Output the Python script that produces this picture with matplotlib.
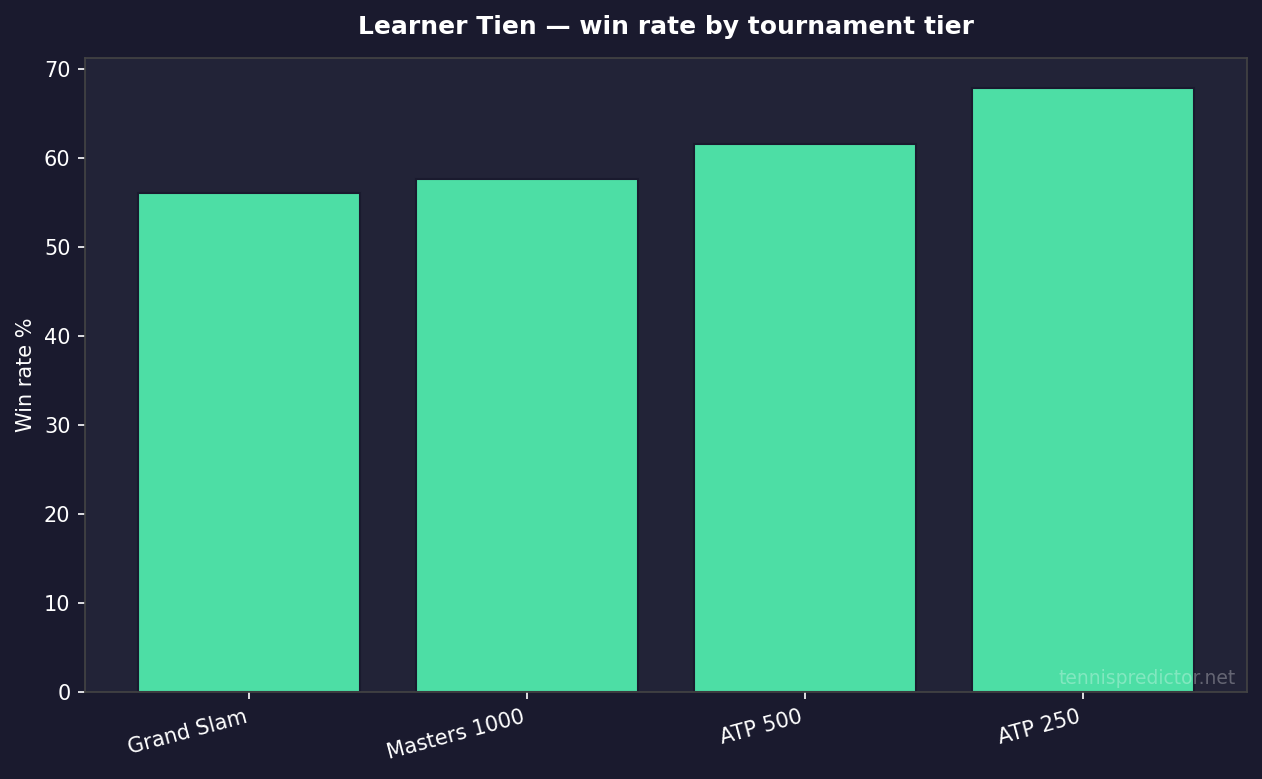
import matplotlib
matplotlib.use('Agg')
import matplotlib.pyplot as plt

# Win rate by tier
tiers = ['Grand Slam', 'Masters 1000', 'ATP 500', 'ATP 250']
win_rates = [56.0, 57.6, 61.5, 67.8]

BG = '#1a1a2e'
AX_BG = '#222337'
BAR = '#4ddea5'

fig, ax = plt.subplots(figsize=(1262 / 150, 779 / 150), dpi=150)
fig.patch.set_facecolor(BG)
ax.set_facecolor(AX_BG)

ax.bar(tiers, win_rates, color=BAR, edgecolor=BG, linewidth=1)
ax.set_ylim(0, max(win_rates) * 1.05)

ax.set_title('Learner Tien \u2014 win rate by tournament tier', color='white',
             fontsize=12, fontweight='bold', pad=11.5)
ax.set_ylabel('Win rate %', color='white', fontsize=10)
ax.tick_params(colors='white', labelsize=10)
plt.setp(ax.get_xticklabels(), rotation=15, ha='right')
for s in ax.spines.values():
    s.set_color('#444444')

ax.text(0.99, 0.007, 'tennispredictor.net', transform=ax.transAxes,
        ha='right', va='bottom', fontsize=9, color='white', alpha=0.3)

fig.subplots_adjust(left=0.0674, right=0.9881, top=0.9255, bottom=0.1117)
plt.savefig('out.png', dpi=150, facecolor=BG)
